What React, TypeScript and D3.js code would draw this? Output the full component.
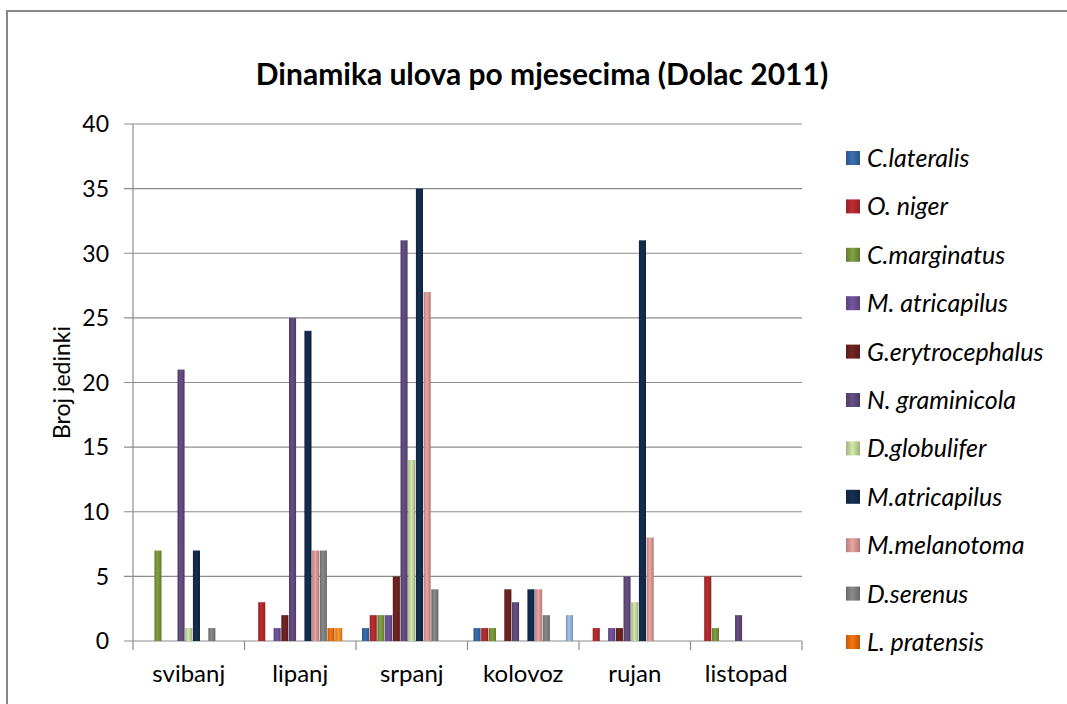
import React from "react";
import * as d3 from "d3";

// mjeseci (kategorije)
const months = ["svibanj", "lipanj", "srpanj", "kolovoz", "rujan", "listopad"];

// broj jedinki po vrsti, redom po mjesecima
const cLateralis = [0, 0, 1, 1, 0, 0];
const oNiger = [0, 3, 2, 1, 1, 5];
const cMarginatus = [7, 0, 2, 1, 0, 1];
const mAtricapilus1 = [0, 1, 2, 0, 1, 0];
const gErytrocephalus = [0, 2, 5, 4, 1, 0];
const nGraminicola = [21, 25, 31, 3, 5, 2];
const dGlobulifer = [1, 0, 14, 0, 3, 0];
const mAtricapilus2 = [7, 24, 35, 4, 31, 0];
const mMelanotoma = [0, 7, 27, 4, 8, 0];
const dSerenus = [1, 7, 4, 2, 0, 0];
const lPratensis = [0, 1, 0, 0, 0, 0];
// two more series whose legend entries are cut off in the original
const series12 = [0, 1, 0, 0, 0, 0];
const series13 = [0, 0, 0, 2, 0, 0];

const seriesNames = [
  "C.lateralis",
  "O. niger",
  "C.marginatus",
  "M. atricapilus",
  "G.erytrocephalus",
  "N. graminicola",
  "D.globulifer",
  "M.atricapilus",
  "M.melanotoma",
  "D.serenus",
  "L. pratensis",
  "serija 12",
  "serija 13",
];
const seriesValues = [
  cLateralis, oNiger, cMarginatus, mAtricapilus1, gErytrocephalus, nGraminicola,
  dGlobulifer, mAtricapilus2, mMelanotoma, dSerenus, lPratensis, series12, series13,
];
const colors = [
  "#3566a6", "#b0292d", "#77933c", "#6a4f93", "#6a2220", "#5f497a",
  "#c3d69b", "#122b4a", "#d99694", "#7f7f7f", "#e46c0a", "#f08a24", "#95b3d7",
];
const yTicks = [0, 5, 10, 15, 20, 25, 30, 35, 40];
const legendCount = 11; // legend is truncated after L. pratensis

const W = 1067;
const H = 704;
const plot = { left: 133, right: 802, top: 124, bottom: 641 };
const font = "Lato, 'Open Sans', sans-serif";

export default function App() {
  const x0 = d3.scaleBand<string>().domain(months).range([plot.left, plot.right]);
  const bw = x0.bandwidth();
  const x1 = d3
    .scaleBand<number>()
    .domain(d3.range(seriesNames.length))
    .range([6, bw - 6])
    .paddingInner(0.08);
  const y = d3.scaleLinear().domain([0, 40]).range([plot.bottom, plot.top]);

  const legendY = d3.scalePoint<number>().domain(d3.range(legendCount)).range([158, 642]);

  return (
    <svg
      width={W}
      height={H}
      style={{ position: "absolute", left: 0, top: 0, background: "#fff" }}
    >
      <defs>
        {colors.map((c, i) => (
          <linearGradient key={i} id={"g" + i} x1="0" x2="1" y1="0" y2="0">
            <stop offset="0%" stopColor={d3.color(c)!.darker(0.5).toString()} />
            <stop offset="45%" stopColor={d3.color(c)!.brighter(0.25).toString()} />
            <stop offset="100%" stopColor={d3.color(c)!.darker(0.6).toString()} />
          </linearGradient>
        ))}
      </defs>

      {/* chart border */}
      <rect x={7} y={11} width={W + 10} height={H + 10} fill="none" stroke="#878787" strokeWidth={2} />

      <text x={542} y={85} textAnchor="middle" fontFamily={font} fontWeight="bold" fontSize={30} fill="#000">
        Dinamika ulova po mjesecima (Dolac 2011)
      </text>

      {/* gridlines and y axis */}
      {yTicks.map((t) => (
        <g key={t}>
          <line x1={plot.left - 9} x2={plot.right} y1={y(t)} y2={y(t)} stroke="#8c8c8c" strokeWidth={1.2} />
          <text x={109} y={y(t)} dy="0.36em" textAnchor="end" fontFamily={font} fontSize={23} fill="#000">
            {t}
          </text>
        </g>
      ))}
      <line x1={plot.left} x2={plot.left} y1={plot.top} y2={plot.bottom} stroke="#8c8c8c" strokeWidth={1.2} />
      {d3.range(months.length + 1).map((i) => {
        const xx = plot.left + i * bw;
        return <line key={i} x1={xx} x2={xx} y1={plot.bottom} y2={plot.bottom + 9} stroke="#8c8c8c" strokeWidth={1.2} />;
      })}
      {months.map((m) => (
        <text key={m} x={x0(m)! + bw / 2} y={682} textAnchor="middle" fontFamily={font} fontSize={24} fill="#000">
          {m}
        </text>
      ))}
      <text
        transform={`translate(70, ${(plot.top + plot.bottom) / 2}) rotate(-90)`}
        textAnchor="middle"
        fontFamily={font}
        fontSize={23}
        fill="#000"
      >
        Broj jedinki
      </text>

      {/* bars */}
      {seriesValues.map((vals, si) =>
        vals.map((v, mi) =>
          v > 0 ? (
            <rect
              key={si + "-" + mi}
              x={x0(months[mi])! + x1(si)!}
              y={y(v)}
              width={x1.bandwidth()}
              height={y(0) - y(v)}
              fill={`url(#g${si})`}
            />
          ) : null
        )
      )}

      {/* legend */}
      {seriesNames.slice(0, legendCount).map((name, i) => (
        <g key={name} transform={`translate(846, ${legendY(i)})`}>
          <rect x={0} y={-7} width={14} height={14} fill={`url(#g${i})`} />
          <text x={21} y={0} dy="0.36em" fontFamily={font} fontStyle="italic" fontSize={25} fill="#000">
            {name}
          </text>
        </g>
      ))}
    </svg>
  );
}
